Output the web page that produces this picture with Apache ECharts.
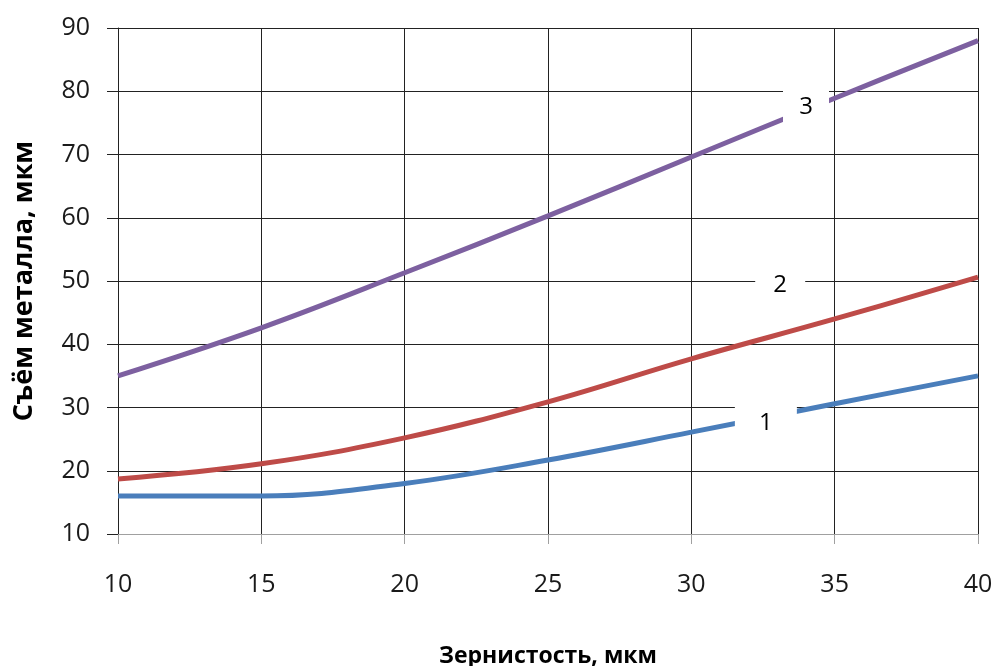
<!DOCTYPE html>
<html><head><meta charset="utf-8">
<script src="https://cdn.jsdelivr.net/npm/echarts@6/dist/echarts.min.js"></script>
<style>html,body{margin:0;padding:0;background:#fff}#c{width:998px;height:666px}</style>
</head><body><div id="c"></div>
<script>
const xValues = [10, 15, 20, 25, 30, 35, 40];
const series1 = [16.0, 16.0, 18.0, 21.7, 26.1, 30.6, 35.0];
const series2 = [18.7, 21.1, 25.2, 30.9, 37.7, 44.0, 50.6];
const series3 = [35.0, 42.6, 51.3, 60.3, 69.6, 78.9, 88.0];
const seriesNames = ['1', '2', '3'];
const labelPositions = [[32.6, 27.5], [33.1, 49.4], [34.0, 77.5]];
const xTitle = 'Зернистость, мкм';
const yTitle = 'Съём металла, мкм';

const colors = ['#4a7ebb', '#be4b48', '#7d60a0'];
const boxSizes = [[62, 36], [50, 40], [46, 38]];
const all = [series1, series2, series3];
const font = '"Open Sans", "Liberation Sans", sans-serif';

const chart = echarts.init(document.getElementById('c'));
chart.setOption({
  animation: false,
  grid: {left: 118, right: 20, top: 28, bottom: 132, containLabel: false, outerBoundsMode: 'none'},
  xAxis: {
    type: 'value', min: 10, max: 40, interval: 5,
    name: xTitle, nameLocation: 'middle', nameGap: 111,
    nameTextStyle: {fontFamily: font, fontSize: 23, fontWeight: 'bold', color: '#000'},
    axisLine: {show: true, lineStyle: {color: '#a0a0a0', width: 1}},
    axisTick: {show: true, length: 10, lineStyle: {color: '#a0a0a0'}},
    axisLabel: {fontFamily: font, fontSize: 25, color: '#1a1a1a', margin: 38},
    splitLine: {show: true, lineStyle: {color: '#222', width: 1}}
  },
  yAxis: {
    type: 'value', min: 10, max: 90, interval: 10,
    name: yTitle, nameLocation: 'middle', nameGap: 80, nameRotate: 90,
    nameTextStyle: {fontFamily: font, fontSize: 27, fontWeight: 'bold', color: '#000'},
    axisLine: {show: true, lineStyle: {color: '#222', width: 1}},
    axisTick: {show: true, length: 11, lineStyle: {color: '#222'}},
    axisLabel: {fontFamily: font, fontSize: 25, color: '#1a1a1a', margin: 28},
    splitLine: {show: true, lineStyle: {color: '#222', width: 1}}
  },
  series: all.map((d, i) => ({
    name: seriesNames[i],
    type: 'line',
    smooth: 0.4,
    symbol: 'none',
    data: xValues.map((x, j) => [x, d[j]]),
    lineStyle: {color: colors[i], width: 5},
    z: 3,
    markPoint: {
      symbol: 'rect',
      symbolSize: boxSizes[i],
      itemStyle: {color: '#fff'},
      label: {show: true, formatter: seriesNames[i], color: '#000', fontFamily: font, fontSize: 24},
      data: [{coord: labelPositions[i]}],
      z: 5
    }
  }))
});
</script></body></html>
